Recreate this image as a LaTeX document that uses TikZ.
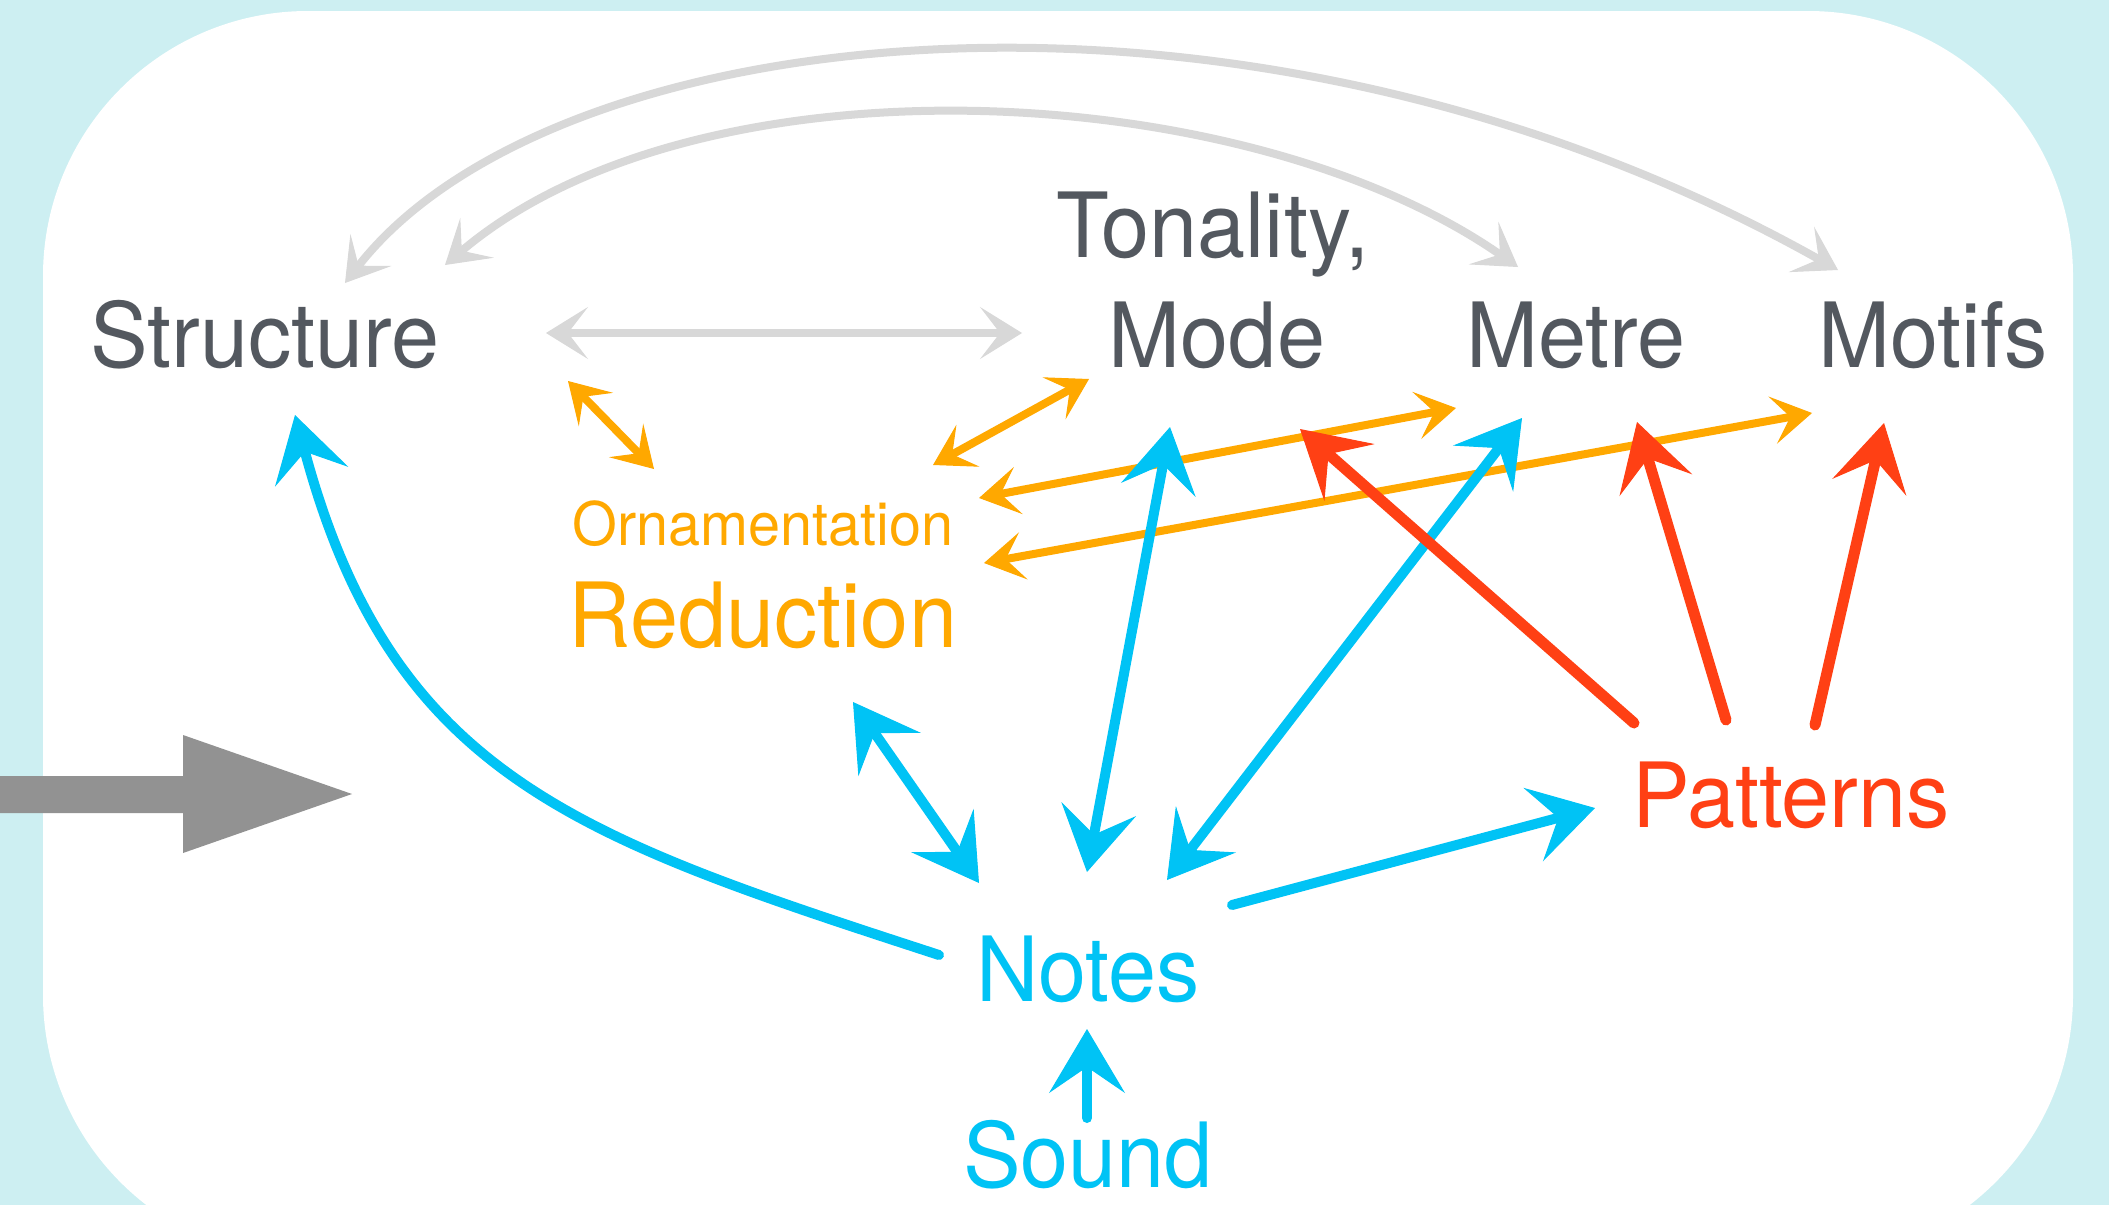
\documentclass[tikz,border=0pt]{standalone}
\usepackage{fontspec}
\setmainfont[FakeStretch=0.96]{TeX Gyre Heros}
\usetikzlibrary{arrows.meta}

\definecolor{bgcyan}{RGB}{205,239,242}
\definecolor{labelgray}{RGB}{83,88,95}
\definecolor{linkgray}{RGB}{216,216,216}
\definecolor{entrygray}{RGB}{146,146,146}
\definecolor{ornorange}{RGB}{255,168,0}
\definecolor{noteblue}{RGB}{0,195,245}
\definecolor{patred}{RGB}{255,64,20}

\tikzset{
  gtip/.tip={Stealth[length=42pt,width=52pt,inset=20pt,line width=1pt]},
  otip/.tip={Stealth[length=40pt,width=48pt,inset=18pt,line width=1pt]},
  btip/.tip={Stealth[length=64pt,width=76pt,inset=26pt,line width=1pt]},
  rtip/.tip={Stealth[length=66pt,width=76pt,inset=28pt,line width=1pt]},
  lbl/.style={anchor=base, inner sep=0pt, font=\fontsize{90}{100}\selectfont},
  smalllbl/.style={anchor=base, inner sep=0pt, font=\fontsize{60}{66}\selectfont},
  grayboth/.style={draw=linkgray, line width=8pt, line cap=round, gtip-gtip},
  orangeboth/.style={draw=ornorange, line width=8pt, line cap=round, otip-otip},
  blueboth/.style={draw=noteblue, line width=10pt, line cap=round, btip-btip},
  blueone/.style={draw=noteblue, line width=10pt, line cap=round, -btip},
  redone/.style={draw=patred, line width=11pt, line cap=round, -rtip},
}

\begin{document}
\begin{tikzpicture}[x=1pt,y=-1pt]
\useasboundingbox (0,0) rectangle (2109,1205);
\clip (0,0) rectangle (2109,1205);

% panel background
\fill[bgcyan] (0,0) rectangle (2109,1205);
\fill[white, rounded corners=265pt] (43,11) rectangle (2073,1260);

% entry arrow on the left edge
\fill[entrygray] (-5,776) -- (183,776) -- (183,735) -- (352,794)
  -- (183,853) -- (183,813) -- (-5,813) -- cycle;

% labels
\node[lbl, text=labelgray] (structure) at (265,367) {Structure};
\node[lbl, text=labelgray] (tonality) at (1213,257) {Tonality,};
\node[lbl, text=labelgray] (mode) at (1217,367) {Mode};
\node[lbl, text=labelgray] (metre) at (1576,367) {Metre};
\node[lbl, text=labelgray] (motifs) at (1933,367) {Motifs};
\node[smalllbl, text=ornorange] (ornament) at (763,545) {Ornamentation};
\node[lbl, text=ornorange] (reduction) at (763,647) {Reduction};
\node[lbl, text=patred] (patterns) at (1791,827) {Patterns};
\node[lbl, text=noteblue] (notes) at (1088,1001) {Notes};
\node[lbl, text=noteblue] (sound) at (1088,1187) {Sound};

% connector end points
\coordinate (st-o) at (345,283);   \coordinate (mo-o) at (1838,270);
\coordinate (st-i) at (445,265);   \coordinate (me-i) at (1518,267);
\coordinate (st-h) at (546,333);   \coordinate (md-h) at (1022,333);
\coordinate (st-r) at (568,381);   \coordinate (rd-s) at (654,469);
\coordinate (rd-md) at (933,465);  \coordinate (md-r) at (1089,379);
\coordinate (rd-me) at (979,498);  \coordinate (me-r) at (1456,408);
\coordinate (rd-mo) at (984,563);  \coordinate (mo-r) at (1812,413);
\coordinate (nt-st) at (939,955);  \coordinate (st-n) at (295,415);
\coordinate (rd-n) at (853,702);   \coordinate (nt-rd) at (979,883);
\coordinate (nt-md) at (1087,872); \coordinate (md-n) at (1170,427);
\coordinate (nt-me) at (1167,880); \coordinate (me-n) at (1522,418);
\coordinate (nt-pt) at (1232,905); \coordinate (pt-n) at (1595,808);
\coordinate (sd-n) at (1087,1118); \coordinate (nt-sd) at (1087,1029);
\coordinate (pt-md) at (1634,723); \coordinate (md-p) at (1300,429);
\coordinate (pt-me) at (1726,720); \coordinate (me-p) at (1637,422);
\coordinate (pt-mo) at (1815,725); \coordinate (mo-p) at (1884,423);

% structure links (grey)
\draw[grayboth] (st-o) .. controls (555,15) and (1250,-60) .. (mo-o);
\draw[grayboth] (st-i) .. controls (698,51) and (1243,76) .. (me-i);
\draw[grayboth] (st-h) -- (md-h);

% reduction links (orange)
\draw[orangeboth] (st-r) -- (rd-s);
\draw[orangeboth] (rd-md) -- (md-r);
\draw[orangeboth] (rd-me) -- (me-r);
\draw[orangeboth] (rd-mo) -- (mo-r);

% note links (blue)
\draw[blueone] (nt-st) .. controls (580,838) and (393,778) .. (st-n);
\draw[blueboth] (rd-n) -- (nt-rd);
\draw[blueboth] (nt-md) -- (md-n);
\draw[blueboth] (nt-me) -- (me-n);
\draw[blueone] (nt-pt) -- (pt-n);
\draw[blueone] (sd-n) -- (nt-sd);

% pattern links (red)
\draw[redone] (pt-md) -- (md-p);
\draw[redone] (pt-me) -- (me-p);
\draw[redone] (pt-mo) -- (mo-p);
\end{tikzpicture}
\end{document}
